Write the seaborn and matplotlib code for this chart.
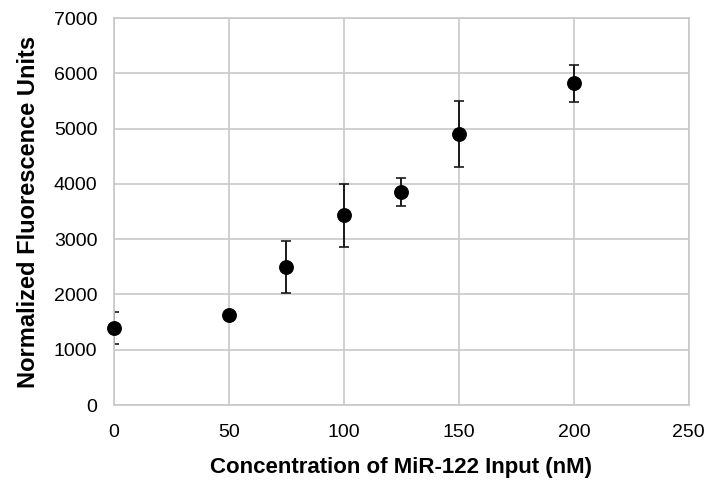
import numpy as np
import pandas as pd
import matplotlib
matplotlib.use("Agg")
import matplotlib.pyplot as plt
import seaborn as sns

# values
concentration = [0, 50, 75, 100, 125, 150, 200]
fluorescence = [1400, 1620, 2490, 3435, 3850, 4900, 5820]
error = [290, 0, 470, 570, 255, 600, 330]

df = pd.DataFrame({"conc": concentration, "fluor": fluorescence, "err": error})

sns.set_style("whitegrid")
plt.rcParams['font.family'] = ['Liberation Sans', 'DejaVu Sans']

fig = plt.figure(figsize=(7.13, 4.88), dpi=100)
ax = fig.add_axes([0.160, 0.170, 0.806, 0.793])

ax.errorbar(df["conc"], df["fluor"], yerr=df["err"], fmt="none",
            ecolor="#1a1a1a", elinewidth=1.4, capsize=3.5, capthick=1.2, zorder=2)
sns.scatterplot(data=df, x="conc", y="fluor", ax=ax, color="black",
                s=115, edgecolor="black", linewidth=0, zorder=3, clip_on=False)

ax.set_xlim(0, 250)
ax.set_ylim(0, 7000)
ax.set_xticks(np.arange(0, 251, 50))
ax.set_yticks(np.arange(0, 7001, 1000))
ax.grid(True, color="#c8c8c8", linewidth=1.2)
for s in ax.spines.values():
    s.set_color("#c8c8c8")
    s.set_linewidth(1.2)
ax.tick_params(axis="both", length=0, labelsize=14, colors="black")
ax.tick_params(axis="x", pad=14)
ax.tick_params(axis="y", pad=12)

ax.set_xlabel("Concentration of MiR-122 Input (nM)", fontsize=16,
              fontweight="bold", labelpad=11, color="black")
ax.set_ylabel("Normalized Fluorescence Units", fontsize=17,
              fontweight="bold", labelpad=10, color="black")

fig.savefig("out.png", dpi=100)
